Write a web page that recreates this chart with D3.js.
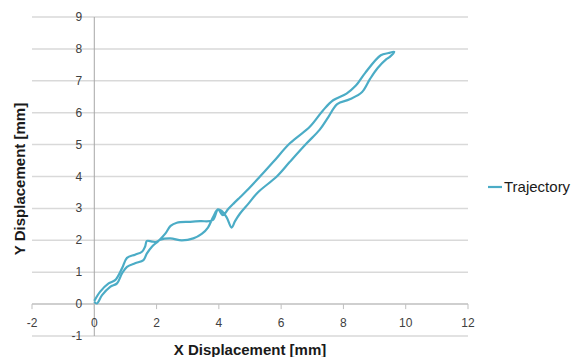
<!DOCTYPE html>
<html>
<head>
<meta charset="utf-8">
<script src="https://cdn.jsdelivr.net/npm/d3@7"></script>
<style>
  body { margin: 0; background: #fff; }
  svg { display: block; font-family: "Liberation Sans", Arial, sans-serif; }
</style>
</head>
<body>
<svg id="chart" width="579" height="357"></svg>
<script>
// trajectory, out along the upper-left side to the tip and back along the lower-right side
const xDisp = [0.0, 0.19, 0.46, 0.67, 0.89, 1.05, 1.31, 1.53, 1.63, 1.69, 1.85, 2.0, 2.12, 2.44, 2.81, 3.18, 3.45, 3.65, 3.82, 3.97, 4.13, 4.3, 4.47, 4.68, 4.89, 5.32, 5.75, 6.28, 6.92, 7.35, 7.67, 8.1, 8.4, 8.7, 9.2, 9.45, 9.63,
  9.49, 9.38, 9.1, 8.85, 8.6, 8.2, 7.8, 7.52, 7.24, 6.82, 6.28, 5.86, 5.25, 4.95, 4.68, 4.52, 4.41, 4.25, 4.08, 3.97, 3.8, 3.4, 3.08, 2.65, 2.45, 2.28, 2.06, 1.85, 1.69, 1.58, 1.31, 1.05, 0.89, 0.73, 0.51, 0.25, 0.08, 0.0];
const yDisp = [0.1, 0.39, 0.65, 0.75, 1.12, 1.45, 1.55, 1.64, 1.8, 1.98, 1.96, 1.95, 2.02, 2.06, 2.0, 2.06, 2.2, 2.4, 2.74, 2.97, 2.79, 2.98, 3.15, 3.35, 3.55, 4.0, 4.46, 5.04, 5.56, 6.08, 6.39, 6.6, 6.85, 7.25, 7.8, 7.87, 7.91,
  7.75, 7.68, 7.4, 7.05, 6.65, 6.42, 6.27, 5.87, 5.47, 5.04, 4.46, 4.0, 3.5, 3.15, 2.84, 2.6, 2.4, 2.72, 2.93, 2.97, 2.63, 2.6, 2.58, 2.55, 2.45, 2.21, 1.98, 1.8, 1.59, 1.38, 1.28, 1.17, 0.96, 0.65, 0.54, 0.28, 0.02, 0.08];

const xTicks = [-2, 0, 2, 4, 6, 8, 10, 12];
const yTicks = [-1, 0, 1, 2, 3, 4, 5, 6, 7, 8, 9];
const seriesName = "Trajectory";

const svg = d3.select("#chart");
const lineColor = "#4bacc6";

const x = d3.scaleLinear().domain([-2, 12]).range([32, 468]);
const y = d3.scaleLinear().domain([-1, 9]).range([336, 17]);

// 水平网格线
svg.append("g")
  .selectAll("line")
  .data(yTicks)
  .join("line")
  .attr("x1", x(-2)).attr("x2", x(12))
  .attr("y1", d => y(d)).attr("y2", d => y(d))
  .attr("stroke", d => d === 0 ? "#bfbfbf" : "#d9d9d9")
  .attr("stroke-width", 1.5);

// y 轴线在 x=0
svg.append("line")
  .attr("x1", x(0)).attr("x2", x(0))
  .attr("y1", y(9)).attr("y2", y(-1))
  .attr("stroke", "#a6a6a6")
  .attr("stroke-width", 1);

// x 轴刻度
svg.append("g")
  .selectAll("line")
  .data(xTicks)
  .join("line")
  .attr("x1", d => x(d)).attr("x2", d => x(d))
  .attr("y1", y(0)).attr("y2", y(0) + 5)
  .attr("stroke", "#bfbfbf")
  .attr("stroke-width", 1);

svg.append("g")
  .selectAll("text")
  .data(xTicks)
  .join("text")
  .attr("x", d => x(d))
  .attr("y", y(0) + 23)
  .attr("text-anchor", "middle")
  .attr("font-size", 12)
  .attr("fill", "#404040")
  .text(d => d);

svg.append("g")
  .selectAll("text")
  .data(yTicks)
  .join("text")
  .attr("x", x(0) - 12)
  .attr("y", d => y(d) + 4)
  .attr("text-anchor", "end")
  .attr("font-size", 12)
  .attr("fill", "#404040")
  .text(d => d);

// 轨迹曲线
const pts = xDisp.map((v, i) => [v, yDisp[i]]);
const line = d3.line()
  .x(d => x(d[0]))
  .y(d => y(d[1]))
  .curve(d3.curveCatmullRom.alpha(0.5));

svg.append("path")
  .datum(pts)
  .attr("d", line)
  .attr("fill", "none")
  .attr("stroke", lineColor)
  .attr("stroke-width", 2.2)
  .attr("stroke-linejoin", "round");

// 坐标轴标题
svg.append("text")
  .attr("x", 250)
  .attr("y", 355)
  .attr("text-anchor", "middle")
  .attr("font-size", 15)
  .attr("font-weight", "bold")
  .attr("fill", "#1a1a1a")
  .text("X Displacement [mm]");

svg.append("text")
  .attr("transform", "translate(25,179) rotate(-90)")
  .attr("text-anchor", "middle")
  .attr("font-size", 15)
  .attr("font-weight", "bold")
  .attr("fill", "#1a1a1a")
  .text("Y Displacement [mm]");

// 图例
svg.append("line")
  .attr("x1", 488).attr("x2", 502)
  .attr("y1", 187).attr("y2", 187)
  .attr("stroke", lineColor)
  .attr("stroke-width", 2.2);

svg.append("text")
  .attr("x", 504)
  .attr("y", 192)
  .attr("font-size", 15)
  .attr("fill", "#1a1a1a")
  .text(seriesName);
</script>
</body>
</html>
